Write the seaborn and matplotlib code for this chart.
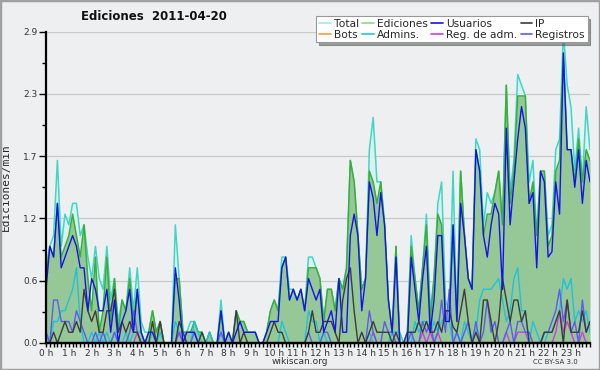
import numpy as np
import pandas as pd
import seaborn as sns
import matplotlib.pyplot as plt
from matplotlib.lines import Line2D
from matplotlib.patches import Rectangle

# 10-minute bins over the day, values in edits per minute
minutes = np.arange(0, 1440, 10)

total = [0.7, 0.9, 1.0, 1.7, 0.9, 1.2, 1.1, 1.3, 1.3, 1.0, 1.1, 0.8,
         0.6, 0.9, 0.6, 0.5, 0.9, 0.4, 0.6, 0.2, 0.4, 0.3, 0.7, 0.3,
         0.7, 0.2, 0.1, 0.1, 0.3, 0.1, 0.2, 0.0, 0.0, 0.0, 1.1, 0.6,
         0.1, 0.1, 0.2, 0.2, 0.1, 0.1, 0.0, 0.1, 0.0, 0.0, 0.4, 0.0,
         0.1, 0.0, 0.3, 0.2, 0.2, 0.1, 0.1, 0.1, 0.0, 0.0, 0.1, 0.3,
         0.4, 0.3, 0.8, 0.8, 0.5, 0.5, 0.4, 0.5, 0.3, 0.8, 0.8, 0.7,
         0.6, 0.2, 0.5, 0.5, 0.3, 0.6, 0.5, 0.7, 1.7, 1.5, 1.0, 0.5,
         0.6, 1.8, 2.1, 1.5, 1.5, 1.1, 0.4, 0.1, 0.9, 0.0, 0.0, 0.1,
         1.0, 0.6, 0.3, 0.7, 1.2, 0.3, 0.6, 1.3, 1.5, 0.4, 0.3, 1.6,
         0.2, 1.6, 1.0, 0.6, 0.5, 1.9, 1.8, 1.1, 1.4, 1.3, 1.4, 1.6,
         1.1, 2.4, 1.4, 1.7, 2.5, 2.4, 2.3, 1.5, 1.7, 1.0, 1.6, 1.6,
         1.0, 1.1, 1.8, 1.9, 2.9, 2.4, 2.2, 1.6, 2.0, 1.5, 2.2, 1.8]

ediciones = [0.6, 0.9, 0.8, 1.3, 0.8, 0.9, 1.0, 1.2, 1.0, 0.8, 1.1, 0.6,
             0.3, 0.8, 0.1, 0.3, 0.8, 0.2, 0.6, 0.1, 0.4, 0.3, 0.6, 0.2,
             0.5, 0.1, 0.0, 0.1, 0.3, 0.1, 0.2, 0.0, 0.0, 0.0, 0.6, 0.6,
             0.1, 0.1, 0.1, 0.2, 0.1, 0.1, 0.0, 0.1, 0.0, 0.0, 0.3, 0.0,
             0.1, 0.0, 0.3, 0.2, 0.2, 0.1, 0.1, 0.1, 0.0, 0.0, 0.1, 0.3,
             0.4, 0.3, 0.7, 0.8, 0.4, 0.5, 0.4, 0.5, 0.3, 0.7, 0.7, 0.7,
             0.6, 0.2, 0.5, 0.5, 0.3, 0.6, 0.5, 0.7, 1.7, 1.5, 1.0, 0.5,
             0.6, 1.6, 1.5, 1.3, 1.5, 1.1, 0.4, 0.1, 0.9, 0.0, 0.0, 0.1,
             0.9, 0.6, 0.3, 0.7, 1.1, 0.2, 0.6, 1.2, 1.1, 0.3, 0.3, 1.1,
             0.2, 1.6, 1.0, 0.6, 0.5, 1.8, 1.6, 1.0, 1.2, 1.2, 1.4, 1.6,
             1.1, 2.4, 1.3, 1.6, 2.3, 2.3, 2.3, 1.3, 1.5, 1.0, 1.6, 1.6,
             0.9, 1.0, 1.6, 1.7, 2.7, 1.8, 1.8, 1.5, 1.9, 1.5, 1.8, 1.7]

usuarios = [0.5, 0.9, 0.8, 1.3, 0.7, 0.8, 0.9, 1.0, 0.9, 0.7, 0.7, 0.3,
            0.6, 0.5, 0.3, 0.3, 0.5, 0.1, 0.4, 0.0, 0.2, 0.3, 0.5, 0.1,
            0.5, 0.1, 0.0, 0.1, 0.1, 0.0, 0.0, 0.0, 0.0, 0.0, 0.7, 0.4,
            0.0, 0.1, 0.1, 0.1, 0.0, 0.0, 0.0, 0.0, 0.0, 0.0, 0.3, 0.0,
            0.1, 0.0, 0.1, 0.2, 0.1, 0.1, 0.1, 0.1, 0.0, 0.0, 0.1, 0.2,
            0.2, 0.2, 0.7, 0.8, 0.4, 0.5, 0.4, 0.5, 0.3, 0.6, 0.5, 0.4,
            0.5, 0.1, 0.2, 0.3, 0.1, 0.6, 0.1, 0.1, 1.0, 1.2, 1.0, 0.3,
            0.6, 1.5, 1.35, 1.0, 1.4, 1.1, 0.4, 0.1, 0.8, 0.0, 0.0, 0.0,
            0.8, 0.5, 0.2, 0.6, 0.9, 0.1, 0.4, 1.0, 1.0, 0.2, 0.2, 1.1,
            0.2, 1.3, 1.0, 0.6, 0.5, 1.8, 1.6, 1.0, 0.8, 1.1, 1.3, 1.2,
            0.5, 2.0, 1.1, 1.5, 1.9, 2.2, 2.0, 1.3, 1.4, 0.7, 1.6, 1.5,
            0.8, 0.85, 1.5, 1.2, 2.7, 1.8, 1.8, 1.45, 1.8, 1.3, 1.7, 1.5]

ip = [0.0, 0.0, 0.1, 0.0, 0.1, 0.2, 0.1, 0.1, 0.2, 0.1, 0.5, 0.3,
      0.2, 0.3, 0.1, 0.1, 0.3, 0.3, 0.5, 0.1, 0.2, 0.1, 0.2, 0.1,
      0.1, 0.0, 0.0, 0.0, 0.2, 0.0, 0.2, 0.0, 0.0, 0.0, 0.0, 0.2,
      0.1, 0.0, 0.0, 0.0, 0.0, 0.1, 0.0, 0.0, 0.0, 0.0, 0.0, 0.0,
      0.0, 0.0, 0.3, 0.0, 0.1, 0.0, 0.0, 0.0, 0.0, 0.0, 0.0, 0.1,
      0.2, 0.1, 0.1, 0.0, 0.0, 0.0, 0.0, 0.0, 0.0, 0.1, 0.3, 0.1,
      0.1, 0.2, 0.2, 0.2, 0.1, 0.0, 0.4, 0.6, 0.7, 0.3, 0.0, 0.1,
      0.0, 0.1, 0.2, 0.1, 0.1, 0.1, 0.1, 0.0, 0.1, 0.0, 0.0, 0.1,
      0.1, 0.1, 0.2, 0.1, 0.2, 0.1, 0.1, 0.2, 0.1, 0.3, 0.3, 0.15,
      0.1, 0.3, 0.5, 0.2, 0.0, 0.1, 0.0, 0.4, 0.4, 0.2, 0.0, 0.2,
      0.6, 0.4, 0.2, 0.4, 0.4, 0.2, 0.3, 0.0, 0.0, 0.0, 0.0, 0.1,
      0.1, 0.1, 0.2, 0.3, 0.0, 0.4, 0.1, 0.1, 0.1, 0.3, 0.1, 0.2]

admins = [0.1, 0.0, 0.2, 0.2, 0.3, 0.3, 0.4, 0.5, 0.7, 0.2, 0.0, 0.0,
          0.1, 0.0, 0.1, 0.0, 0.1, 0.0, 0.1, 0.0, 0.0, 0.1, 0.0, 0.1,
          0.1, 0.1, 0.0, 0.0, 0.1, 0.0, 0.1, 0.0, 0.0, 0.0, 0.2, 0.1,
          0.1, 0.0, 0.0, 0.2, 0.1, 0.0, 0.0, 0.1, 0.0, 0.0, 0.1, 0.0,
          0.0, 0.0, 0.0, 0.0, 0.0, 0.0, 0.0, 0.0, 0.0, 0.0, 0.0, 0.0,
          0.0, 0.0, 0.2, 0.1, 0.0, 0.0, 0.0, 0.0, 0.0, 0.3, 0.2, 0.2,
          0.0, 0.1, 0.0, 0.0, 0.0, 0.0, 0.0, 0.0, 0.0, 0.0, 0.0, 0.0,
          0.0, 0.1, 0.0, 0.0, 0.0, 0.0, 0.0, 0.1, 0.1, 0.1, 0.0, 0.0,
          0.0, 0.2, 0.1, 0.2, 0.2, 0.1, 0.2, 0.1, 0.2, 0.25, 0.2, 0.0,
          0.1, 0.0, 0.2, 0.1, 0.0, 0.1, 0.4, 0.5, 0.5, 0.5, 0.55, 0.6,
          0.4, 0.2, 0.3, 0.6, 0.7, 0.3, 0.3, 0.0, 0.2, 0.1, 0.0, 0.0,
          0.1, 0.1, 0.2, 0.3, 0.6, 0.5, 0.6, 0.2, 0.3, 0.2, 0.3, 0.1]

registros = [0.1, 0.0, 0.4, 0.4, 0.2, 0.2, 0.2, 0.1, 0.3, 0.2, 0.1, 0.0,
             0.0, 0.1, 0.0, 0.1, 0.0, 0.0, 0.1, 0.0, 0.0, 0.0, 0.1, 0.3,
             0.1, 0.0, 0.0, 0.0, 0.0, 0.0, 0.0, 0.0, 0.0, 0.0, 0.0, 0.1,
             0.0, 0.0, 0.0, 0.1, 0.0, 0.0, 0.0, 0.0, 0.0, 0.0, 0.1, 0.0,
             0.0, 0.0, 0.0, 0.0, 0.0, 0.0, 0.0, 0.0, 0.0, 0.0, 0.0, 0.0,
             0.0, 0.0, 0.0, 0.0, 0.0, 0.0, 0.0, 0.0, 0.0, 0.1, 0.0, 0.0,
             0.0, 0.1, 0.1, 0.0, 0.0, 0.0, 0.0, 0.0, 0.0, 0.0, 0.0, 0.0,
             0.0, 0.3, 0.1, 0.0, 0.0, 0.2, 0.1, 0.1, 0.0, 0.0, 0.0, 0.0,
             0.1, 0.0, 0.0, 0.2, 0.1, 0.2, 0.0, 0.1, 0.4, 0.1, 0.5, 0.0,
             0.1, 0.0, 0.1, 0.2, 0.0, 0.2, 0.0, 0.1, 0.4, 0.1, 0.2, 0.0,
             0.0, 0.1, 0.2, 0.0, 0.2, 0.2, 0.1, 0.1, 0.0, 0.0, 0.0, 0.1,
             0.1, 0.2, 0.3, 0.5, 0.2, 0.4, 0.1, 0.2, 0.0, 0.4, 0.1, 0.2]

reg_adm = [0.0] * 24 + \
          [0.1, 0.0, 0.0, 0.0, 0.0, 0.0, 0.0, 0.0, 0.0, 0.0, 0.0, 0.1] + \
          [0.0] * 48 + \
          [0.0, 0.0, 0.1, 0.0, 0.0, 0.0, 0.0, 0.0, 0.0, 0.0, 0.0, 0.0,
           0.0, 0.0, 0.0, 0.1, 0.0, 0.1, 0.0, 0.1, 0.0, 0.0, 0.0, 0.0] + \
          [0.0] * 12 + \
          [0.0, 0.1, 0.0, 0.0, 0.1, 0.1, 0.1, 0.0, 0.0, 0.0, 0.0, 0.0,
           0.0, 0.0, 0.1, 0.3, 0.1, 0.2, 0.1, 0.0, 0.0, 0.1, 0.0, 0.0]

bots = [0.0] * 144

hour_labels = [f"{h} h" for h in range(24)]
ymax = 2.9

df = pd.DataFrame({
    "hora": minutes / 60,
    "Total": total,
    "Ediciones": ediciones,
    "Usuarios": usuarios,
    "IP": ip,
    "Bots": bots,
    "Admins.": admins,
    "Reg. de adm.": reg_adm,
    "Registros": registros,
})

colors = {
    "Total": "#3fd6c6",
    "Ediciones": "#3aae3a",
    "Usuarios": "#1414e6",
    "IP": "#3c3c3c",
    "Bots": "#f0a040",
    "Admins.": "#1fc2dc",
    "Reg. de adm.": "#d23ce0",
    "Registros": "#5c5cf0",
}
swatch = dict(colors)
swatch["Total"] = "#a8e6e0"
swatch["Ediciones"] = "#8ed48e"

bg = "#eeeff1"
sns.set_style("ticks", {"axes.facecolor": bg, "figure.facecolor": bg})
plt.rcParams["font.family"] = ["DejaVu Sans"]

fig = plt.figure(figsize=(6, 3.7), dpi=100)
ax = fig.add_axes([46 / 600, 1 - 343 / 370, 544 / 600, 311.5 / 370])

# filled areas
ax.fill_between(df["hora"], 0, df["Total"], color="#dcf1ef", lw=0, zorder=1)
sns.lineplot(data=df, x="hora", y="Total", color=colors["Total"], lw=1.1, ax=ax, zorder=3)
ax.fill_between(df["hora"], 0, df["Ediciones"], color="#96c796", lw=0, zorder=3)
sns.lineplot(data=df, x="hora", y="Ediciones", color=colors["Ediciones"], lw=1.1, ax=ax, zorder=4)

for name in ["Bots", "Reg. de adm.", "Admins.", "Registros", "IP", "Usuarios"]:
    sns.lineplot(data=df, x="hora", y=name, color=colors[name], lw=1.0, ax=ax, zorder=5)

ax.set_xlim(0, minutes[-1] / 60)
ax.set_ylim(0, ymax)

yt = np.linspace(0, ymax, 6)
ax.set_yticks(yt)
ax.set_yticklabels([f"{v:.1f}" for v in yt])
ax.set_yticks((yt[:-1] + yt[1:]) / 2, minor=True)
ax.set_xticks(range(24))
ax.set_xticklabels(hour_labels)
ax.set_xticks(minutes / 60, minor=True)
ax.tick_params(axis="both", which="both", bottom=True, left=True, direction="out",
               color="black", width=1)
ax.tick_params(axis="both", which="major", length=5, labelsize=6.5, labelcolor="#333333", pad=1)
ax.tick_params(axis="both", which="minor", length=3)
ax.tick_params(axis="x", which="major", length=3)

ax.yaxis.grid(True, color="#c8c8c8", lw=0.9)
ax.set_axisbelow(True)
for s in ["top", "right"]:
    ax.spines[s].set_visible(False)
for s in ["left", "bottom"]:
    ax.spines[s].set_visible(True)
    ax.spines[s].set_color("black")
    ax.spines[s].set_linewidth(1.6)
    ax.spines[s].set_zorder(10)
# x axis baseline drawn over the zero-valued lines
ax.axhline(0, color="black", lw=1.6, zorder=11, clip_on=False)

ax.set_xlabel("")
ax.set_ylabel("Ediciones/min", family="DejaVu Sans Mono", fontsize=8, labelpad=4)
ax.yaxis.set_label_coords(-0.064, 0.5)

fig.text(154 / 600, 1 - 17 / 370, "Ediciones  2011-04-20", ha="center", va="center",
         fontsize=8.5, fontweight="bold", color="#111111")
fig.text(300 / 600, 1 - 361 / 370, "wikiscan.org", ha="center", va="center",
         fontsize=6.5, color="#333333")
fig.text(555 / 600, 1 - 362 / 370, "CC BY-SA 3.0", ha="center", va="center",
         fontsize=5, color="#333333")

order = ["Total", "Bots", "Ediciones", "Admins.", "Usuarios", "Reg. de adm.", "IP", "Registros"]
handles = [Line2D([], [], color=swatch[n], lw=1.2) for n in order]
leg = fig.legend(handles, order, ncol=4, loc="upper right", bbox_to_anchor=(593 / 600, 1 - 11 / 370),
                 fontsize=7.7, handlelength=1.1, handletextpad=0.3, columnspacing=0.3,
                 labelspacing=0.05, borderpad=0.25, frameon=True, fancybox=False, shadow=True)
leg.get_frame().set_facecolor("white")
leg.get_frame().set_edgecolor("#999999")
leg.get_frame().set_linewidth(0.8)

fig.patches.append(Rectangle((0, 0), 1, 1, transform=fig.transFigure, fill=False,
                             edgecolor="#a0a0a0", lw=2.5))

fig.savefig("out.png", dpi=100, facecolor=bg)
